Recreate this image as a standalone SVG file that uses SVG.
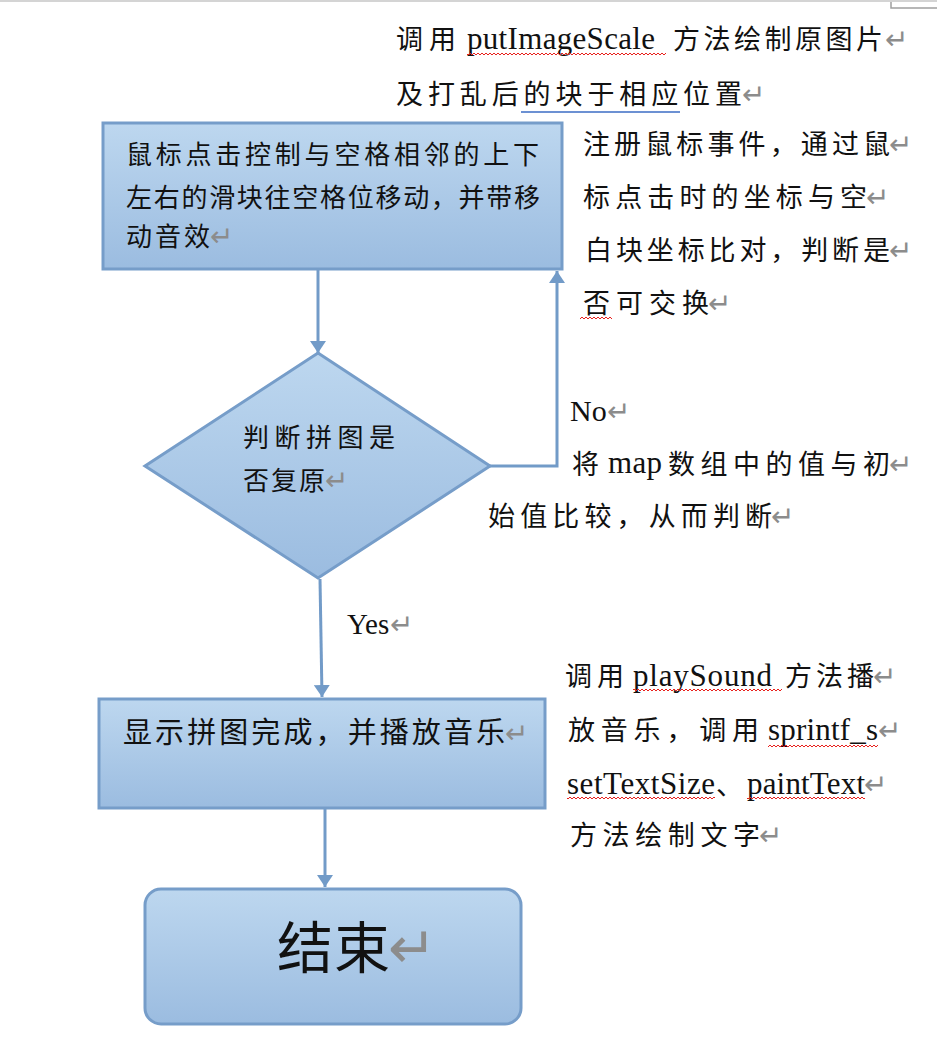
<svg xmlns="http://www.w3.org/2000/svg" width="937" height="1037" viewBox="0 0 937 1037">
  <defs>
    <linearGradient id="boxFill" x1="0" y1="0" x2="0" y2="1">
      <stop offset="0" stop-color="#BDD7EF"/>
      <stop offset="1" stop-color="#9BBCE0"/>
    </linearGradient>
    <marker id="arrow" viewBox="0 0 12 16" refX="12" refY="8" markerWidth="12" markerHeight="16" markerUnits="userSpaceOnUse" orient="auto">
      <path d="M0,0 L12,8 L0,16 Z" fill="#729BC8"/>
    </marker>
    <pattern id="wavy" patternUnits="userSpaceOnUse" x="0" y="0" width="4" height="4">
      <path d="M0,3 L2,1 L4,3" fill="none" stroke="#E8201C" stroke-width="1"/>
    </pattern>
    <style>
      .shape { fill: url(#boxFill); stroke: #769DC9; stroke-width: 3; }
      .conn { fill: none; stroke: #729BC8; stroke-width: 3; }
      .cjk { font-family: "Noto Sans CJK SC", sans-serif; fill: #111; }
      .lat { font-family: "Liberation Serif", serif; fill: #111; }
      .note { font-size: 27px; }
      .lnote { font-size: 31px; }
      .box { font-size: 26px; }
      .mark { font-family: "DejaVu Sans", sans-serif; font-size: 28px; fill: #8c8c8c; }
      .mark-big { font-size: 58px; }
      .wave { fill: url(#wavy); }
    </style>
  </defs>

  <!-- page edge and corner mark -->
  <g id="page-edge">
    <line x1="0" y1="1" x2="937" y2="1" stroke="#d4d4d4" stroke-width="2"/>
    <polyline points="891,2 891,8 937,8" fill="none" stroke="#a0a0a0" stroke-width="1.5"/>
  </g>

  <!-- connectors -->
  <g id="connectors">
    <path class="conn" d="M318,270 L318,353" marker-end="url(#arrow)"/>
    <path class="conn" d="M490,466 L557,466 L557,271" marker-end="url(#arrow)"/>
    <path class="conn" d="M320,579 L322,697" marker-end="url(#arrow)"/>
    <path class="conn" d="M325,809 L325,887" marker-end="url(#arrow)"/>
  </g>

  <!-- process: move tile -->
  <g id="node-move">
    <rect class="shape" x="103" y="123" width="459" height="146"/>
    <text class="cjk box" x="126" y="164" textLength="413" lengthAdjust="spacing">鼠标点击控制与空格相邻的上下</text>
    <text class="cjk box" x="126" y="207" textLength="414" lengthAdjust="spacing">左右的滑块往空格位移动，并带移</text>
    <text class="cjk box" x="126" y="246" textLength="84" lengthAdjust="spacing">动音效</text>
    <text class="mark" x="210" y="246">↵</text>
  </g>

  <!-- decision: puzzle solved? -->
  <g id="node-check">
    <polygon class="shape" points="318,353 490,466 318,578 145,466"/>
    <text class="cjk box" x="243" y="447" textLength="152" lengthAdjust="spacing">判断拼图是</text>
    <text class="cjk box" x="243" y="490" textLength="82" lengthAdjust="spacing">否复原</text>
    <text class="mark" x="325" y="490">↵</text>
  </g>

  <!-- process: show completion -->
  <g id="node-done">
    <rect class="shape" x="99" y="699" width="446" height="109"/>
    <text class="cjk" font-size="29" x="123" y="743" textLength="382" lengthAdjust="spacing">显示拼图完成，并播放音乐</text>
    <text class="mark" x="505" y="743">↵</text>
  </g>

  <!-- terminator: end -->
  <g id="node-end">
    <rect class="shape" x="145" y="889" width="376" height="135" rx="16" ry="16"/>
    <text class="cjk" font-size="56" x="277" y="968" textLength="113" lengthAdjust="spacing">结束</text>
    <text class="mark mark-big" x="388" y="968">↵</text>
  </g>

  <!-- branch labels -->
  <g id="label-no">
    <text class="lat" font-size="30" x="570" y="421">No</text>
    <text class="mark" x="607" y="421">↵</text>
  </g>
  <g id="label-yes">
    <text class="lat" font-size="29" x="347" y="634">Yes</text>
    <text class="mark" x="390" y="634">↵</text>
  </g>

  <!-- note: initial drawing -->
  <g id="note-draw">
    <text class="cjk note" x="396" y="49" textLength="60" lengthAdjust="spacing">调用</text>
    <text class="lat lnote" x="467" y="49" textLength="188" lengthAdjust="spacing">putImageScale</text>
    <text class="cjk note" x="673" y="49" textLength="210" lengthAdjust="spacing">方法绘制原图片</text>
    <text class="mark" x="885" y="49">↵</text>
    <rect class="wave" x="467" y="52" width="199" height="4"/>
    <text class="cjk note" x="396" y="104" textLength="346" lengthAdjust="spacing">及打乱后的块于相应位置</text>
    <text class="mark" x="742" y="104">↵</text>
    <line x1="521" y1="112" x2="680" y2="112" stroke="#3B6CC4" stroke-width="1.5"/>
  </g>

  <!-- note: mouse events -->
  <g id="note-mouse">
    <text class="cjk note" x="583" y="154" textLength="307" lengthAdjust="spacing">注册鼠标事件，通过鼠</text>
    <text class="mark" x="889" y="154">↵</text>
    <text class="cjk note" x="583" y="207" textLength="284" lengthAdjust="spacing">标点击时的坐标与空</text>
    <text class="mark" x="866" y="207">↵</text>
    <text class="cjk note" x="585" y="260" textLength="305" lengthAdjust="spacing">白块坐标比对，判断是</text>
    <text class="mark" x="889" y="260">↵</text>
    <text class="cjk note" x="583" y="313" textLength="126" lengthAdjust="spacing">否可交换</text>
    <text class="mark" x="708" y="313">↵</text>
    <rect class="wave" x="580" y="316" width="32" height="4"/>
  </g>

  <!-- note: map comparison -->
  <g id="note-compare">
    <text class="cjk note" x="572" y="474">将</text>
    <text class="lat lnote" x="608" y="473" textLength="54" lengthAdjust="spacing">map</text>
    <text class="cjk note" x="668" y="474" textLength="222" lengthAdjust="spacing">数组中的值与初</text>
    <text class="mark" x="889" y="474">↵</text>
    <text class="cjk note" x="488" y="526" textLength="284" lengthAdjust="spacing">始值比较，从而判断</text>
    <text class="mark" x="771" y="526">↵</text>
  </g>

  <!-- note: sound and text -->
  <g id="note-finish">
    <text class="cjk note" x="565" y="686" textLength="59" lengthAdjust="spacing">调用</text>
    <text class="lat lnote" x="633" y="686" textLength="139" lengthAdjust="spacing">playSound</text>
    <text class="cjk note" x="785" y="686" textLength="89" lengthAdjust="spacing">方法播</text>
    <text class="mark" x="873" y="686">↵</text>
    <rect class="wave" x="633" y="688" width="149" height="4"/>
    <text class="cjk note" x="568" y="740" textLength="191" lengthAdjust="spacing">放音乐，调用</text>
    <text class="lat lnote" x="768" y="740" textLength="110" lengthAdjust="spacing">sprintf_s</text>
    <text class="mark" x="878" y="740">↵</text>
    <rect class="wave" x="768" y="744" width="110" height="4"/>
    <text class="lat lnote" x="567" y="794" textLength="148" lengthAdjust="spacing">setTextSize</text>
    <text class="cjk note" x="716" y="795">、</text>
    <text class="lat lnote" x="747" y="794" textLength="118" lengthAdjust="spacing">paintText</text>
    <text class="mark" x="864" y="794">↵</text>
    <rect class="wave" x="567" y="796" width="148" height="4"/>
    <rect class="wave" x="747" y="796" width="118" height="4"/>
    <text class="cjk note" x="570" y="845" textLength="190" lengthAdjust="spacing">方法绘制文字</text>
    <text class="mark" x="759" y="845">↵</text>
  </g>
</svg>
